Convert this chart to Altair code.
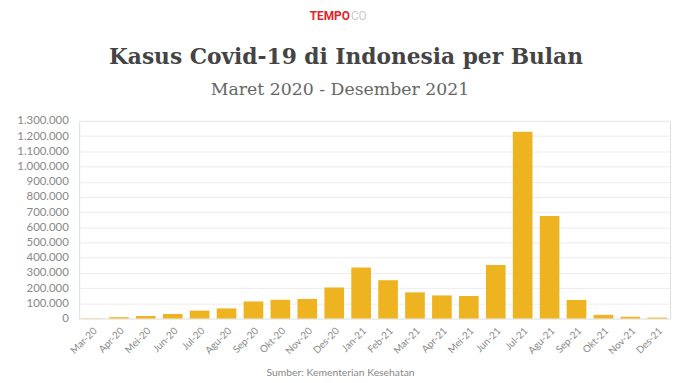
import altair as alt
import pandas as pd

months = ["Mar-20", "Apr-20", "Mei-20", "Jun-20", "Jul-20", "Agu-20", "Sep-20", "Okt-20",
          "Nov-20", "Des-20", "Jan-21", "Feb-21", "Mar-21", "Apr-21", "Mei-21", "Jun-21",
          "Jul-21", "Agu-21", "Sep-21", "Okt-21", "Nov-21", "Des-21"]
cases = [1528, 8590, 16355, 29912, 51991, 66420, 112212, 123080,
         128795, 204315, 335116, 252000, 172000, 152000, 148000, 352000,
         1229000, 675000, 121000, 24000, 11600, 6300]
y_ticks = list(range(0, 1300001, 100000))

df = pd.DataFrame({"bulan": months, "kasus": cases})

bars = alt.Chart(df).mark_bar(color="#EEB320").encode(
    x=alt.X("bulan:N", sort=months,
            scale=alt.Scale(paddingInner=0.27, paddingOuter=0.11),
            axis=alt.Axis(labelAngle=-45, labelFontSize=10, labelColor="#888",
                          labelFont="Lato", ticks=False, domain=False, labelPadding=7,
                          title="Sumber: Kementerian Kesehatan", titleFont="Lato",
                          titleFontSize=10.5, titleFontWeight="normal", titleColor="#888",
                          titleX=264, titleY=58, titleBaseline="alphabetic",
                          titleAnchor="middle")),
    y=alt.Y("kasus:Q", scale=alt.Scale(domain=[0, 1300000], nice=False),
            axis=alt.Axis(values=y_ticks,
                          labelExpr="replace(format(datum.value, ','), /,/g, '.')",
                          labelFontSize=11.5, labelColor="#888",
                          labelFont="Lato", ticks=False, domain=False, labelPadding=11,
                          gridColor="#ececec", title=None)),
)

one = alt.Chart(alt.Data(values=[{}]))
tempo = one.mark_text(text="TEMPO", color="#E0262A", font="Roboto", fontSize=12,
                      fontWeight="bold", align="right", baseline="alphabetic").encode(
    x=alt.value(274), y=alt.value(-102))
co = one.mark_text(text="CO", color="#c9c9c9", font="Roboto", fontSize=12,
                   align="left", baseline="alphabetic").encode(
    x=alt.value(275), y=alt.value(-102))
title = one.mark_text(text="Kasus Covid-19 di Indonesia per Bulan", color="#444",
                      font="DejaVu Serif", fontSize=22, fontWeight="bold", align="center",
                      baseline="alphabetic").encode(
    x=alt.value(270), y=alt.value(-58))
subtitle = one.mark_text(text="Maret 2020 - Desember 2021", color="#666",
                         font="DejaVu Serif", fontSize=17.5, align="center",
                         baseline="alphabetic").encode(
    x=alt.value(264), y=alt.value(-26))

chart = alt.layer(bars, tempo, co, title, subtitle).properties(
    width=598, height=200,
    autosize=alt.AutoSizeParams(type="none"),
    padding={"left": 72, "top": 112, "right": 5, "bottom": 62},
).configure_view(stroke=None).configure(background="white")

chart.save("out.html", embed_options={"renderer": "svg", "actions": False})
